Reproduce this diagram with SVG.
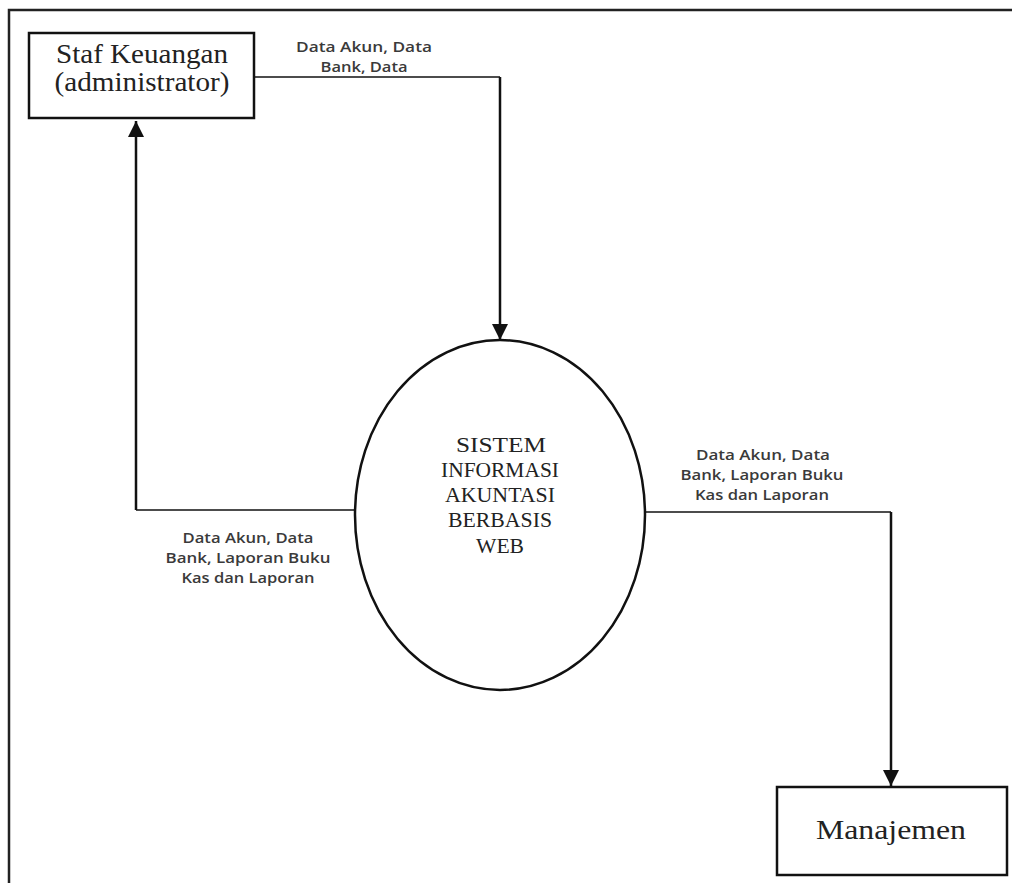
<svg xmlns="http://www.w3.org/2000/svg" width="1012" height="883" viewBox="0 0 1012 883">
<style>
.box{fill:#fff;stroke:#111;stroke-width:2.5}
.line{fill:none;stroke:#111;stroke-width:1.6}
.vline{fill:none;stroke:#111;stroke-width:2.5}
.ser{font-family:"Liberation Serif","Times New Roman",serif;fill:#222;text-anchor:middle}
.lbl{font-family:"Open Sans","Noto Sans",sans-serif;font-size:14px;font-weight:600;fill:#3a3a3a;text-anchor:middle}
</style>
<defs>
<marker id="ahb" viewBox="0 0 16 16" refX="16" refY="8" markerWidth="16" markerHeight="16" orient="auto" markerUnits="userSpaceOnUse">
<path d="M0,0 L16,8 L0,16 Z" fill="#111"/>
</marker>
</defs>
<rect width="1012" height="883" fill="#fff"/>
<g id="frame">
<path d="M9,883 L9,10 L1012,10" fill="none" stroke="#222" stroke-width="2.5"/>
</g>
<g id="connectors">
<path class="line" d="M254,77 L500,77"/>
<path class="vline" d="M500,77 L500,340" marker-end="url(#ahb)"/>
<path class="line" d="M355,510 L136,510"/>
<path class="vline" d="M136,510 L136,121" marker-end="url(#ahb)"/>
<path class="line" d="M645,512 L891,512"/>
<path class="vline" d="M891,512 L891,786" marker-end="url(#ahb)"/>
<text class="lbl" x="364" y="52" textLength="136" lengthAdjust="spacingAndGlyphs">Data Akun, Data</text>
<text class="lbl" x="364" y="72" textLength="87" lengthAdjust="spacingAndGlyphs">Bank, Data</text>
<text class="lbl" x="248" y="543" textLength="131" lengthAdjust="spacingAndGlyphs">Data Akun, Data</text>
<text class="lbl" x="248" y="563" textLength="165" lengthAdjust="spacingAndGlyphs">Bank, Laporan Buku</text>
<text class="lbl" x="248" y="583" textLength="133" lengthAdjust="spacingAndGlyphs">Kas dan Laporan</text>
<text class="lbl" x="763" y="460" textLength="134" lengthAdjust="spacingAndGlyphs">Data Akun, Data</text>
<text class="lbl" x="762" y="480" textLength="163" lengthAdjust="spacingAndGlyphs">Bank, Laporan Buku</text>
<text class="lbl" x="762" y="500" textLength="134" lengthAdjust="spacingAndGlyphs">Kas dan Laporan</text>
</g>
<g id="staf">
<rect class="box" x="29" y="33" width="225" height="85"/>
<text class="ser" x="142" y="63" font-size="27" textLength="172" lengthAdjust="spacingAndGlyphs">Staf Keuangan</text>
<text class="ser" x="142" y="91" font-size="27" textLength="175" lengthAdjust="spacingAndGlyphs">(administrator)</text>
</g>
<g id="sistem">
<ellipse class="box" cx="500" cy="515" rx="145" ry="175"/>
<text class="ser" x="501" y="452" font-size="22" textLength="90" lengthAdjust="spacingAndGlyphs">SISTEM</text>
<text class="ser" x="500" y="477" font-size="22" textLength="118" lengthAdjust="spacingAndGlyphs">INFORMASI</text>
<text class="ser" x="500" y="502" font-size="22" textLength="110" lengthAdjust="spacingAndGlyphs">AKUNTASI</text>
<text class="ser" x="500" y="527" font-size="22" textLength="104" lengthAdjust="spacingAndGlyphs">BERBASIS</text>
<text class="ser" x="500" y="553" font-size="22" textLength="48" lengthAdjust="spacingAndGlyphs">WEB</text>
</g>
<g id="manajemen">
<rect class="box" x="777" y="787" width="230" height="88"/>
<text class="ser" x="891" y="839" font-size="27" textLength="150" lengthAdjust="spacingAndGlyphs">Manajemen</text>
</g>
</svg>
